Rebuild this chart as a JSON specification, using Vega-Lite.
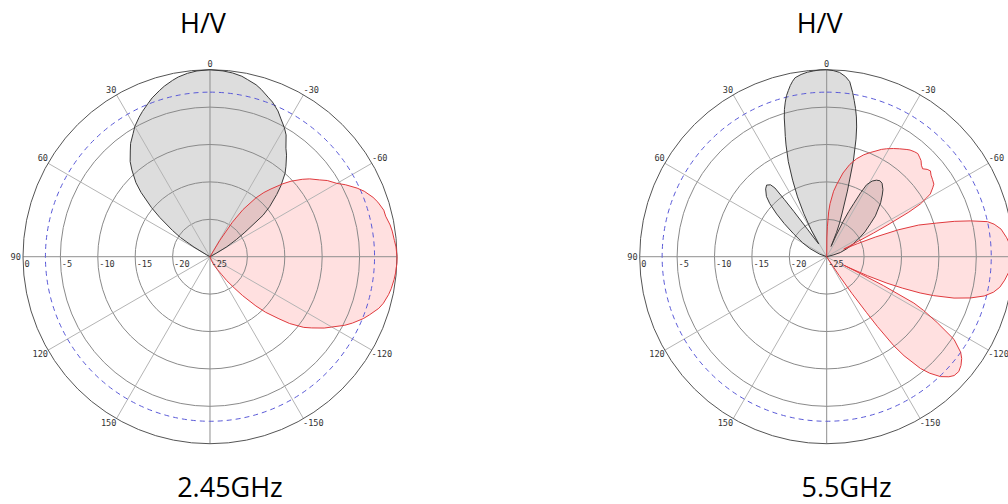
{
"$schema":"https://vega.github.io/schema/vega-lite/v6.json",
"padding":0,"spacing":0,"bounds":"flush","background":"white",
"config":{"view":{"stroke":null},"concat":{"spacing":0}},
"datasets":{
"pat":[
{"f":"2.45","p":"V","a":-180,"g":-25},{"f":"2.45","p":"V","a":-63,"g":-25},{"f":"2.45","p":"V","a":-61,"g":-24},{"f":"2.45","p":"V","a":-59.5,"g":-22.4},{"f":"2.45","p":"V","a":-57,"g":-20.8},{"f":"2.45","p":"V","a":-55,"g":-19.3},{"f":"2.45","p":"V","a":-52,"g":-16},{"f":"2.45","p":"V","a":-50,"g":-14.6},{"f":"2.45","p":"V","a":-47,"g":-12.8},{"f":"2.45","p":"V","a":-45,"g":-11.6},{"f":"2.45","p":"V","a":-42,"g":-10},{"f":"2.45","p":"V","a":-40,"g":-9.2},{"f":"2.45","p":"V","a":-37,"g":-8},{"f":"2.45","p":"V","a":-35,"g":-7.3},{"f":"2.45","p":"V","a":-32,"g":-5.8},{"f":"2.45","p":"V","a":-30,"g":-5.1},{"f":"2.45","p":"V","a":-27,"g":-4.2},{"f":"2.45","p":"V","a":-25,"g":-3.5},{"f":"2.45","p":"V","a":-22,"g":-2.7},{"f":"2.45","p":"V","a":-20,"g":-2.3},{"f":"2.45","p":"V","a":-17,"g":-1.6},{"f":"2.45","p":"V","a":-15,"g":-1.2},{"f":"2.45","p":"V","a":-12,"g":-0.8},{"f":"2.45","p":"V","a":-10,"g":-0.5},{"f":"2.45","p":"V","a":-7,"g":-0.25},{"f":"2.45","p":"V","a":-4,"g":-0.1},{"f":"2.45","p":"V","a":0,"g":0},{"f":"2.45","p":"V","a":4,"g":-0.1},{"f":"2.45","p":"V","a":7,"g":-0.3},{"f":"2.45","p":"V","a":10,"g":-0.6},{"f":"2.45","p":"V","a":12,"g":-0.9},{"f":"2.45","p":"V","a":15,"g":-1.4},{"f":"2.45","p":"V","a":17,"g":-1.8},{"f":"2.45","p":"V","a":20,"g":-2.4},{"f":"2.45","p":"V","a":22,"g":-2.9},{"f":"2.45","p":"V","a":25,"g":-3.6},{"f":"2.45","p":"V","a":27,"g":-4.1},{"f":"2.45","p":"V","a":30,"g":-4.9},{"f":"2.45","p":"V","a":32,"g":-5.6},{"f":"2.45","p":"V","a":35,"g":-6.5},{"f":"2.45","p":"V","a":37,"g":-7.3},{"f":"2.45","p":"V","a":40,"g":-8.4},{"f":"2.45","p":"V","a":42,"g":-9.4},{"f":"2.45","p":"V","a":45,"g":-11},{"f":"2.45","p":"V","a":47,"g":-12.4},{"f":"2.45","p":"V","a":50,"g":-14.8},{"f":"2.45","p":"V","a":52,"g":-16.5},{"f":"2.45","p":"V","a":55,"g":-18.9},{"f":"2.45","p":"V","a":57,"g":-20.3},{"f":"2.45","p":"V","a":59,"g":-22.5},{"f":"2.45","p":"V","a":61,"g":-24.5},{"f":"2.45","p":"V","a":63,"g":-25},
{"f":"2.45","p":"H","a":-180,"g":-25},{"f":"2.45","p":"H","a":-165,"g":-25},{"f":"2.45","p":"H","a":-160,"g":-24.5},{"f":"2.45","p":"H","a":-155,"g":-23.8},{"f":"2.45","p":"H","a":-150,"g":-23},{"f":"2.45","p":"H","a":-147,"g":-22.2},{"f":"2.45","p":"H","a":-145,"g":-21.1},{"f":"2.45","p":"H","a":-142,"g":-19.6},{"f":"2.45","p":"H","a":-140,"g":-18.2},{"f":"2.45","p":"H","a":-137,"g":-16},{"f":"2.45","p":"H","a":-135,"g":-14.5},{"f":"2.45","p":"H","a":-132,"g":-12.6},{"f":"2.45","p":"H","a":-130,"g":-11.1},{"f":"2.45","p":"H","a":-127,"g":-9.3},{"f":"2.45","p":"H","a":-125,"g":-8.4},{"f":"2.45","p":"H","a":-122,"g":-7},{"f":"2.45","p":"H","a":-120,"g":-6.2},{"f":"2.45","p":"H","a":-117,"g":-4.8},{"f":"2.45","p":"H","a":-115,"g":-4},{"f":"2.45","p":"H","a":-112,"g":-2.9},{"f":"2.45","p":"H","a":-110,"g":-2.3},{"f":"2.45","p":"H","a":-107,"g":-1.4},{"f":"2.45","p":"H","a":-105,"g":-1},{"f":"2.45","p":"H","a":-102,"g":-0.6},{"f":"2.45","p":"H","a":-100,"g":-0.4},{"f":"2.45","p":"H","a":-97,"g":-0.2},{"f":"2.45","p":"H","a":-95,"g":-0.1},{"f":"2.45","p":"H","a":-92,"g":0},{"f":"2.45","p":"H","a":-90,"g":0},{"f":"2.45","p":"H","a":-87,"g":-0.1},{"f":"2.45","p":"H","a":-85,"g":-0.25},{"f":"2.45","p":"H","a":-82,"g":-0.4},{"f":"2.45","p":"H","a":-80,"g":-0.55},{"f":"2.45","p":"H","a":-77,"g":-0.9},{"f":"2.45","p":"H","a":-75,"g":-0.95},{"f":"2.45","p":"H","a":-72,"g":-1.4},{"f":"2.45","p":"H","a":-70,"g":-1.8},{"f":"2.45","p":"H","a":-67,"g":-2.6},{"f":"2.45","p":"H","a":-65,"g":-3.3},{"f":"2.45","p":"H","a":-62,"g":-4.5},{"f":"2.45","p":"H","a":-60,"g":-5.4},{"f":"2.45","p":"H","a":-57,"g":-6.3},{"f":"2.45","p":"H","a":-55,"g":-7.1},{"f":"2.45","p":"H","a":-52,"g":-8.1},{"f":"2.45","p":"H","a":-50,"g":-8.9},{"f":"2.45","p":"H","a":-47,"g":-10.2},{"f":"2.45","p":"H","a":-45,"g":-11.2},{"f":"2.45","p":"H","a":-42,"g":-12.8},{"f":"2.45","p":"H","a":-40,"g":-13.8},{"f":"2.45","p":"H","a":-38,"g":-15},{"f":"2.45","p":"H","a":-35,"g":-17.3},{"f":"2.45","p":"H","a":-33,"g":-19.5},{"f":"2.45","p":"H","a":-31,"g":-22.5},{"f":"2.45","p":"H","a":-29,"g":-25},
{"f":"5.5","p":"V","a":-180,"g":-25},{"f":"5.5","p":"V","a":-78,"g":-25},{"f":"5.5","p":"V","a":-75,"g":-24},{"f":"5.5","p":"V","a":-73,"g":-23.1},{"f":"5.5","p":"V","a":-68,"g":-22},{"f":"5.5","p":"V","a":-64,"g":-21},{"f":"5.5","p":"V","a":-60,"g":-19.9},{"f":"5.5","p":"V","a":-57,"g":-18.9},{"f":"5.5","p":"V","a":-53,"g":-17.7},{"f":"5.5","p":"V","a":-50,"g":-16.5},{"f":"5.5","p":"V","a":-48,"g":-15.9},{"f":"5.5","p":"V","a":-45,"g":-14.8},{"f":"5.5","p":"V","a":-42,"g":-13.9},{"f":"5.5","p":"V","a":-40,"g":-13.3},{"f":"5.5","p":"V","a":-37,"g":-12.7},{"f":"5.5","p":"V","a":-35,"g":-12.6},{"f":"5.5","p":"V","a":-33,"g":-12.8},{"f":"5.5","p":"V","a":-31,"g":-13.2},{"f":"5.5","p":"V","a":-29,"g":-14},{"f":"5.5","p":"V","a":-28,"g":-15.3},{"f":"5.5","p":"V","a":-27,"g":-17},{"f":"5.5","p":"V","a":-26,"g":-18.3},{"f":"5.5","p":"V","a":-25,"g":-19.8},{"f":"5.5","p":"V","a":-24,"g":-21.8},{"f":"5.5","p":"V","a":-23,"g":-23.5},{"f":"5.5","p":"V","a":-22,"g":-21.5},{"f":"5.5","p":"V","a":-21,"g":-20.3},{"f":"5.5","p":"V","a":-19.5,"g":-18.8},{"f":"5.5","p":"V","a":-17.5,"g":-15.8},{"f":"5.5","p":"V","a":-15.5,"g":-11.6},{"f":"5.5","p":"V","a":-14,"g":-8.8},{"f":"5.5","p":"V","a":-13,"g":-7.2},{"f":"5.5","p":"V","a":-12,"g":-5.9},{"f":"5.5","p":"V","a":-11,"g":-4.8},{"f":"5.5","p":"V","a":-10,"g":-3.8},{"f":"5.5","p":"V","a":-9,"g":-2.8},{"f":"5.5","p":"V","a":-7.5,"g":-1.4},{"f":"5.5","p":"V","a":-6,"g":-0.8},{"f":"5.5","p":"V","a":-4,"g":-0.3},{"f":"5.5","p":"V","a":-2,"g":-0.1},{"f":"5.5","p":"V","a":0,"g":0},{"f":"5.5","p":"V","a":2,"g":0},{"f":"5.5","p":"V","a":4,"g":-0.1},{"f":"5.5","p":"V","a":6,"g":-0.2},{"f":"5.5","p":"V","a":8,"g":-0.4},{"f":"5.5","p":"V","a":10,"g":-0.7},{"f":"5.5","p":"V","a":11,"g":-1.1},{"f":"5.5","p":"V","a":12,"g":-1.6},{"f":"5.5","p":"V","a":13,"g":-2.2},{"f":"5.5","p":"V","a":14,"g":-2.8},{"f":"5.5","p":"V","a":15,"g":-3.6},{"f":"5.5","p":"V","a":16,"g":-4.5},{"f":"5.5","p":"V","a":17,"g":-5.6},{"f":"5.5","p":"V","a":18,"g":-6.9},{"f":"5.5","p":"V","a":19,"g":-8},{"f":"5.5","p":"V","a":20,"g":-9.1},{"f":"5.5","p":"V","a":22,"g":-11.3},{"f":"5.5","p":"V","a":24,"g":-13.8},{"f":"5.5","p":"V","a":26,"g":-16.1},{"f":"5.5","p":"V","a":28,"g":-18.5},{"f":"5.5","p":"V","a":30,"g":-20.8},{"f":"5.5","p":"V","a":32,"g":-23},{"f":"5.5","p":"V","a":34,"g":-22},{"f":"5.5","p":"V","a":35,"g":-20.5},{"f":"5.5","p":"V","a":36,"g":-17.5},{"f":"5.5","p":"V","a":36.5,"g":-15.5},{"f":"5.5","p":"V","a":37,"g":-13.5},{"f":"5.5","p":"V","a":38,"g":-12.8},{"f":"5.5","p":"V","a":40,"g":-12.5},{"f":"5.5","p":"V","a":42,"g":-12.8},{"f":"5.5","p":"V","a":45,"g":-13.6},{"f":"5.5","p":"V","a":47,"g":-14.6},{"f":"5.5","p":"V","a":49.5,"g":-16.2},{"f":"5.5","p":"V","a":52,"g":-17.8},{"f":"5.5","p":"V","a":55.3,"g":-19.6},{"f":"5.5","p":"V","a":60,"g":-21.3},{"f":"5.5","p":"V","a":64,"g":-22.5},{"f":"5.5","p":"V","a":70,"g":-24},{"f":"5.5","p":"V","a":75,"g":-25},
{"f":"5.5","p":"H","a":-180,"g":-25},{"f":"5.5","p":"H","a":-150,"g":-25},{"f":"5.5","p":"H","a":-148,"g":-24.5},{"f":"5.5","p":"H","a":-146.5,"g":-22},{"f":"5.5","p":"H","a":-145.5,"g":-19},{"f":"5.5","p":"H","a":-144.5,"g":-15.8},{"f":"5.5","p":"H","a":-144,"g":-13.5},{"f":"5.5","p":"H","a":-143,"g":-10.1},{"f":"5.5","p":"H","a":-142,"g":-8.2},{"f":"5.5","p":"H","a":-140,"g":-5.5},{"f":"5.5","p":"H","a":-138.5,"g":-4.2},{"f":"5.5","p":"H","a":-136.5,"g":-2.9},{"f":"5.5","p":"H","a":-134.5,"g":-2.1},{"f":"5.5","p":"H","a":-133,"g":-1.7},{"f":"5.5","p":"H","a":-131,"g":-1.6},{"f":"5.5","p":"H","a":-129,"g":-1.9},{"f":"5.5","p":"H","a":-127,"g":-2.4},{"f":"5.5","p":"H","a":-125.5,"g":-3},{"f":"5.5","p":"H","a":-123,"g":-4.7},{"f":"5.5","p":"H","a":-120.8,"g":-7.8},{"f":"5.5","p":"H","a":-119,"g":-10.2},{"f":"5.5","p":"H","a":-118,"g":-11.8},{"f":"5.5","p":"H","a":-117,"g":-16.5},{"f":"5.5","p":"H","a":-116.6,"g":-20},{"f":"5.5","p":"H","a":-116.3,"g":-22.5},{"f":"5.5","p":"H","a":-116,"g":-21.5},{"f":"5.5","p":"H","a":-115,"g":-19},{"f":"5.5","p":"H","a":-113.7,"g":-16.2},{"f":"5.5","p":"H","a":-112.5,"g":-14},{"f":"5.5","p":"H","a":-111.2,"g":-11.6},{"f":"5.5","p":"H","a":-110,"g":-9.8},{"f":"5.5","p":"H","a":-108,"g":-7.1},{"f":"5.5","p":"H","a":-106,"g":-5},{"f":"5.5","p":"H","a":-104,"g":-3.3},{"f":"5.5","p":"H","a":-102,"g":-2.2},{"f":"5.5","p":"H","a":-100,"g":-1.5},{"f":"5.5","p":"H","a":-97.5,"g":-1},{"f":"5.5","p":"H","a":-95,"g":-0.6},{"f":"5.5","p":"H","a":-92,"g":-0.35},{"f":"5.5","p":"H","a":-89,"g":-0.3},{"f":"5.5","p":"H","a":-86,"g":-0.5},{"f":"5.5","p":"H","a":-84,"g":-0.8},{"f":"5.5","p":"H","a":-81,"g":-1.4},{"f":"5.5","p":"H","a":-79,"g":-2.2},{"f":"5.5","p":"H","a":-77.7,"g":-3},{"f":"5.5","p":"H","a":-76,"g":-5.2},{"f":"5.5","p":"H","a":-74.5,"g":-7.3},{"f":"5.5","p":"H","a":-73,"g":-9.6},{"f":"5.5","p":"H","a":-71,"g":-12},{"f":"5.5","p":"H","a":-69.4,"g":-14.8},{"f":"5.5","p":"H","a":-68,"g":-18},{"f":"5.5","p":"H","a":-67,"g":-20.5},{"f":"5.5","p":"H","a":-66,"g":-22.5},{"f":"5.5","p":"H","a":-65,"g":-21.5},{"f":"5.5","p":"H","a":-64,"g":-20.5},{"f":"5.5","p":"H","a":-63.2,"g":-18},{"f":"5.5","p":"H","a":-62.5,"g":-15.9},{"f":"5.5","p":"H","a":-61.5,"g":-12.5},{"f":"5.5","p":"H","a":-60.6,"g":-10.6},{"f":"5.5","p":"H","a":-59.5,"g":-9.5},{"f":"5.5","p":"H","a":-58.8,"g":-8.8},{"f":"5.5","p":"H","a":-57,"g":-8.1},{"f":"5.5","p":"H","a":-55.9,"g":-7.7},{"f":"5.5","p":"H","a":-54,"g":-7.5},{"f":"5.5","p":"H","a":-52,"g":-7.3},{"f":"5.5","p":"H","a":-50.4,"g":-7},{"f":"5.5","p":"H","a":-49,"g":-7.2},{"f":"5.5","p":"H","a":-47.5,"g":-7.6},{"f":"5.5","p":"H","a":-46,"g":-7.4},{"f":"5.5","p":"H","a":-44.5,"g":-7},{"f":"5.5","p":"H","a":-43,"g":-6.8},{"f":"5.5","p":"H","a":-41.5,"g":-6.6},{"f":"5.5","p":"H","a":-40,"g":-6.7},{"f":"5.5","p":"H","a":-38,"g":-6.9},{"f":"5.5","p":"H","a":-36.8,"g":-7.1},{"f":"5.5","p":"H","a":-34,"g":-7.6},{"f":"5.5","p":"H","a":-31.7,"g":-8},{"f":"5.5","p":"H","a":-29,"g":-8.5},{"f":"5.5","p":"H","a":-27,"g":-8.9},{"f":"5.5","p":"H","a":-25,"g":-9.4},{"f":"5.5","p":"H","a":-22.7,"g":-9.9},{"f":"5.5","p":"H","a":-20,"g":-10.5},{"f":"5.5","p":"H","a":-17,"g":-11.3},{"f":"5.5","p":"H","a":-14,"g":-12.3},{"f":"5.5","p":"H","a":-11,"g":-13.6},{"f":"5.5","p":"H","a":-8,"g":-15.2},{"f":"5.5","p":"H","a":-6,"g":-16.2},{"f":"5.5","p":"H","a":-3.6,"g":-17.9},{"f":"5.5","p":"H","a":-2.5,"g":-19},{"f":"5.5","p":"H","a":-1.3,"g":-21},{"f":"5.5","p":"H","a":-0.5,"g":-22.5},{"f":"5.5","p":"H","a":1,"g":-25}
],
"rings":[{"g":-20},{"g":-15},{"g":-10},{"g":-5},{"g":0},{"g":-3}],
"spokes":[{"a":0},{"a":30},{"a":60},{"a":90},{"a":120},{"a":150},{"a":180},{"a":-150},{"a":-120},{"a":-90},{"a":-60},{"a":-30}],
"alab":[{"a":0,"t":"0"},{"a":30,"t":"30"},{"a":60,"t":"60"},{"a":90,"t":"90"},{"a":120,"t":"120"},{"a":150,"t":"150"},{"a":-30,"t":"-30"},{"a":-60,"t":"-60"},{"a":-90,"t":"-90"},{"a":-120,"t":"-120"},{"a":-150,"t":"-150"}],
"rlab":[{"g":0,"t":"0"},{"g":-5,"t":"-5"},{"g":-10,"t":"-10"},{"g":-15,"t":"-15"},{"g":-20,"t":"-20"},{"g":-25,"t":"-25"}],
"titles":[{"f":"2.45","top":"H/V","bottom":"2.45GHz"},{"f":"5.5","top":"H/V","bottom":"5.5GHz"}]
},
"hconcat":[
{"width":400,"height":504,
"layer":[
{"data":{"name":"pat"},"transform":[{"filter":"datum.f=='2.45' && datum.p=='V'"},{"calculate":"max(0,datum.g+25)","as":"r"},{"calculate":"-datum.r*sin(datum.a*PI/180)","as":"x"},{"calculate":"datum.r*cos(datum.a*PI/180)","as":"y"}],
 "mark":{"type":"line","interpolate":"linear-closed","fill":"#dddddd","strokeOpacity":0,"clip":true},
 "encoding":{"x":{"field":"x","type":"quantitative","scale":{"domain":[-28.07,25.4],"nice":false,"zero":false},"axis":null},"y":{"field":"y","type":"quantitative","scale":{"domain":[-33.06,34.32],"nice":false,"zero":false},"axis":null},"order":{"field":"a","type":"quantitative"}}},
{"data":{"name":"pat"},"transform":[{"filter":"datum.f=='2.45' && datum.p=='H'"},{"calculate":"max(0,datum.g+25)","as":"r"},{"calculate":"-datum.r*sin(datum.a*PI/180)","as":"x"},{"calculate":"datum.r*cos(datum.a*PI/180)","as":"y"}],
 "mark":{"type":"line","interpolate":"linear-closed","fill":"#ff6464","fillOpacity":0.2,"strokeOpacity":0,"clip":true},
 "encoding":{"x":{"field":"x","type":"quantitative","axis":null},"y":{"field":"y","type":"quantitative","axis":null},"order":{"field":"a","type":"quantitative"}}},
{"data":{"name":"rings"},"transform":[{"filter":"datum.g<=-5"},{"calculate":"datum.g+25","as":"r"},{"calculate":"0","as":"cx"},{"calculate":"0","as":"cy"}],
 "mark":{"type":"arc","theta":0,"theta2":6.2832,"filled":false,"stroke":"#8a8a8a","strokeWidth":1,"clip":true},
 "encoding":{"x":{"field":"cx","type":"quantitative","axis":null},"y":{"field":"cy","type":"quantitative","axis":null},"radius":{"field":"r","type":"quantitative","stack":null,"scale":{"type":"linear","domain":[0,25],"range":[0,187],"zero":true,"nice":false},"legend":null}}},
{"data":{"name":"spokes"},"transform":[{"filter":"datum.a % 90 != 0"},{"calculate":"0","as":"cx"},{"calculate":"0","as":"cy"},{"calculate":"-25*sin(datum.a*PI/180)","as":"ex"},{"calculate":"25*cos(datum.a*PI/180)","as":"ey"}],
 "mark":{"type":"rule","color":"#b4b4b4","strokeWidth":1,"clip":true},
 "encoding":{"x":{"field":"cx","type":"quantitative","axis":null},"y":{"field":"cy","type":"quantitative","axis":null},"x2":{"field":"ex"},"y2":{"field":"ey"}}},
{"data":{"name":"spokes"},"transform":[{"filter":"datum.a % 90 == 0"},{"calculate":"0","as":"cx"},{"calculate":"0","as":"cy"},{"calculate":"-25*sin(datum.a*PI/180)","as":"ex"},{"calculate":"25*cos(datum.a*PI/180)","as":"ey"}],
 "mark":{"type":"rule","color":"#8e8e8e","strokeWidth":1,"clip":true},
 "encoding":{"x":{"field":"cx","type":"quantitative","axis":null},"y":{"field":"cy","type":"quantitative","axis":null},"x2":{"field":"ex"},"y2":{"field":"ey"}}},
{"data":{"name":"rings"},"transform":[{"filter":"datum.g==0"},{"calculate":"datum.g+25","as":"r"},{"calculate":"0","as":"cx"},{"calculate":"0","as":"cy"}],
 "mark":{"type":"arc","theta":0,"theta2":6.2832,"filled":false,"stroke":"#555555","strokeWidth":1,"clip":true},
 "encoding":{"x":{"field":"cx","type":"quantitative","axis":null},"y":{"field":"cy","type":"quantitative","axis":null},"radius":{"field":"r","type":"quantitative","stack":null,"legend":null}}},
{"data":{"name":"rings"},"transform":[{"filter":"datum.g==-3"},{"calculate":"datum.g+25","as":"r"},{"calculate":"0","as":"cx"},{"calculate":"0","as":"cy"}],
 "mark":{"type":"arc","theta":0,"theta2":6.2832,"filled":false,"stroke":"#5a5ad8","strokeWidth":1,"strokeDash":[5,4],"clip":true},
 "encoding":{"x":{"field":"cx","type":"quantitative","axis":null},"y":{"field":"cy","type":"quantitative","axis":null},"radius":{"field":"r","type":"quantitative","stack":null,"legend":null}}},
{"data":{"name":"pat"},"transform":[{"filter":"datum.f=='2.45' && datum.p=='V'"},{"calculate":"max(0,datum.g+25)","as":"r"},{"calculate":"-datum.r*sin(datum.a*PI/180)","as":"x"},{"calculate":"datum.r*cos(datum.a*PI/180)","as":"y"}],
 "mark":{"type":"line","interpolate":"linear-closed","stroke":"#3a3a3a","strokeWidth":1,"clip":true},
 "encoding":{"x":{"field":"x","type":"quantitative","axis":null},"y":{"field":"y","type":"quantitative","axis":null},"order":{"field":"a","type":"quantitative"}}},
{"data":{"name":"pat"},"transform":[{"filter":"datum.f=='2.45' && datum.p=='H'"},{"calculate":"max(0,datum.g+25)","as":"r"},{"calculate":"-datum.r*sin(datum.a*PI/180)","as":"x"},{"calculate":"datum.r*cos(datum.a*PI/180)","as":"y"}],
 "mark":{"type":"line","interpolate":"linear-closed","stroke":"#e03a3e","strokeWidth":1,"clip":true},
 "encoding":{"x":{"field":"x","type":"quantitative","axis":null},"y":{"field":"y","type":"quantitative","axis":null},"order":{"field":"a","type":"quantitative"}}},
{"data":{"name":"alab"},"transform":[{"calculate":"-25*sin(datum.a*PI/180)","as":"x"},{"calculate":"25*cos(datum.a*PI/180)","as":"y"}],
 "encoding":{"x":{"field":"x","type":"quantitative","axis":null},"y":{"field":"y","type":"quantitative","axis":null},"text":{"field":"t"}},
 "layer":[
 {"transform":[{"filter":"datum.a==0"}],"mark":{"type":"text","align":"center","baseline":"bottom","dy":-1,"font":"DejaVu Sans Mono","fontSize":8.6,"color":"#333333","clip":true}},
 {"transform":[{"filter":"datum.a>0 && datum.a<90"}],"mark":{"type":"text","align":"right","baseline":"bottom","dx":0,"font":"DejaVu Sans Mono","fontSize":8.6,"color":"#333333","clip":true}},
 {"transform":[{"filter":"datum.a==90"}],"mark":{"type":"text","align":"right","baseline":"middle","dx":-2,"font":"DejaVu Sans Mono","fontSize":8.6,"color":"#333333","clip":true}},
 {"transform":[{"filter":"datum.a>90"}],"mark":{"type":"text","align":"right","baseline":"top","dx":0,"font":"DejaVu Sans Mono","fontSize":8.6,"color":"#333333","clip":true}},
 {"transform":[{"filter":"datum.a<0 && datum.a>-90"}],"mark":{"type":"text","align":"left","baseline":"bottom","dx":0,"font":"DejaVu Sans Mono","fontSize":8.6,"color":"#333333","clip":true}},
 {"transform":[{"filter":"datum.a==-90"}],"mark":{"type":"text","align":"left","baseline":"middle","dx":2,"font":"DejaVu Sans Mono","fontSize":8.6,"color":"#333333","clip":true}},
 {"transform":[{"filter":"datum.a<-90"}],"mark":{"type":"text","align":"left","baseline":"top","dx":-0.5,"font":"DejaVu Sans Mono","fontSize":8.6,"color":"#333333","clip":true}}
 ]},
{"data":{"name":"rlab"},"transform":[{"calculate":"-(datum.g+25)","as":"x"},{"calculate":"0","as":"y"}],
 "mark":{"type":"text","align":"left","baseline":"top","dx":1.5,"dy":3.5,"font":"DejaVu Sans Mono","fontSize":8.6,"color":"#333333","clip":true},
 "encoding":{"x":{"field":"x","type":"quantitative","axis":null},"y":{"field":"y","type":"quantitative","axis":null},"text":{"field":"t"}}},
{"data":{"name":"titles"},"transform":[{"filter":"datum.f=='2.45'"},{"calculate":"-0.94","as":"tx"},{"calculate":"29.87","as":"ty"}],
 "mark":{"type":"text","align":"center","baseline":"alphabetic","font":"Open Sans","fontSize":27,"color":"#000000"},
 "encoding":{"x":{"field":"tx","type":"quantitative","axis":null},"y":{"field":"ty","type":"quantitative","axis":null},"text":{"field":"top"}}},
{"data":{"name":"titles"},"transform":[{"filter":"datum.f=='2.45'"},{"calculate":"2.67","as":"tx"},{"calculate":"-32.09","as":"ty"}],
 "mark":{"type":"text","align":"center","baseline":"alphabetic","font":"Open Sans","fontSize":27,"color":"#000000"},
 "encoding":{"x":{"field":"tx","type":"quantitative","axis":null},"y":{"field":"ty","type":"quantitative","axis":null},"text":{"field":"bottom"}}}
]},
{"width":608,"height":504,
"layer":[
{"data":{"name":"pat"},"transform":[{"filter":"datum.f=='5.5' && datum.p=='V'"},{"calculate":"max(0,datum.g+25)","as":"r"},{"calculate":"-datum.r*sin(datum.a*PI/180)","as":"x"},{"calculate":"datum.r*cos(datum.a*PI/180)","as":"y"}],
 "mark":{"type":"line","interpolate":"linear-closed","fill":"#dddddd","strokeOpacity":0,"clip":true},
 "encoding":{"x":{"field":"x","type":"quantitative","scale":{"domain":[-57.05,24.24],"nice":false,"zero":false},"axis":null},"y":{"field":"y","type":"quantitative","scale":{"domain":[-33.06,34.32],"nice":false,"zero":false},"axis":null},"order":{"field":"a","type":"quantitative"}}},
{"data":{"name":"pat"},"transform":[{"filter":"datum.f=='5.5' && datum.p=='H'"},{"calculate":"max(0,datum.g+25)","as":"r"},{"calculate":"-datum.r*sin(datum.a*PI/180)","as":"x"},{"calculate":"datum.r*cos(datum.a*PI/180)","as":"y"}],
 "mark":{"type":"line","interpolate":"linear-closed","fill":"#ff6464","fillOpacity":0.2,"strokeOpacity":0,"clip":true},
 "encoding":{"x":{"field":"x","type":"quantitative","axis":null},"y":{"field":"y","type":"quantitative","axis":null},"order":{"field":"a","type":"quantitative"}}},
{"data":{"name":"rings"},"transform":[{"filter":"datum.g<=-5"},{"calculate":"datum.g+25","as":"r"},{"calculate":"0","as":"cx"},{"calculate":"0","as":"cy"}],
 "mark":{"type":"arc","theta":0,"theta2":6.2832,"filled":false,"stroke":"#8a8a8a","strokeWidth":1,"clip":true},
 "encoding":{"x":{"field":"cx","type":"quantitative","axis":null},"y":{"field":"cy","type":"quantitative","axis":null},"radius":{"field":"r","type":"quantitative","stack":null,"scale":{"type":"linear","domain":[0,25],"range":[0,187],"zero":true,"nice":false},"legend":null}}},
{"data":{"name":"spokes"},"transform":[{"filter":"datum.a % 90 != 0"},{"calculate":"0","as":"cx"},{"calculate":"0","as":"cy"},{"calculate":"-25*sin(datum.a*PI/180)","as":"ex"},{"calculate":"25*cos(datum.a*PI/180)","as":"ey"}],
 "mark":{"type":"rule","color":"#b4b4b4","strokeWidth":1,"clip":true},
 "encoding":{"x":{"field":"cx","type":"quantitative","axis":null},"y":{"field":"cy","type":"quantitative","axis":null},"x2":{"field":"ex"},"y2":{"field":"ey"}}},
{"data":{"name":"spokes"},"transform":[{"filter":"datum.a % 90 == 0"},{"calculate":"0","as":"cx"},{"calculate":"0","as":"cy"},{"calculate":"-25*sin(datum.a*PI/180)","as":"ex"},{"calculate":"25*cos(datum.a*PI/180)","as":"ey"}],
 "mark":{"type":"rule","color":"#8e8e8e","strokeWidth":1,"clip":true},
 "encoding":{"x":{"field":"cx","type":"quantitative","axis":null},"y":{"field":"cy","type":"quantitative","axis":null},"x2":{"field":"ex"},"y2":{"field":"ey"}}},
{"data":{"name":"rings"},"transform":[{"filter":"datum.g==0"},{"calculate":"datum.g+25","as":"r"},{"calculate":"0","as":"cx"},{"calculate":"0","as":"cy"}],
 "mark":{"type":"arc","theta":0,"theta2":6.2832,"filled":false,"stroke":"#555555","strokeWidth":1,"clip":true},
 "encoding":{"x":{"field":"cx","type":"quantitative","axis":null},"y":{"field":"cy","type":"quantitative","axis":null},"radius":{"field":"r","type":"quantitative","stack":null,"legend":null}}},
{"data":{"name":"rings"},"transform":[{"filter":"datum.g==-3"},{"calculate":"datum.g+25","as":"r"},{"calculate":"0","as":"cx"},{"calculate":"0","as":"cy"}],
 "mark":{"type":"arc","theta":0,"theta2":6.2832,"filled":false,"stroke":"#5a5ad8","strokeWidth":1,"strokeDash":[5,4],"clip":true},
 "encoding":{"x":{"field":"cx","type":"quantitative","axis":null},"y":{"field":"cy","type":"quantitative","axis":null},"radius":{"field":"r","type":"quantitative","stack":null,"legend":null}}},
{"data":{"name":"pat"},"transform":[{"filter":"datum.f=='5.5' && datum.p=='V'"},{"calculate":"max(0,datum.g+25)","as":"r"},{"calculate":"-datum.r*sin(datum.a*PI/180)","as":"x"},{"calculate":"datum.r*cos(datum.a*PI/180)","as":"y"}],
 "mark":{"type":"line","interpolate":"linear-closed","stroke":"#3a3a3a","strokeWidth":1,"clip":true},
 "encoding":{"x":{"field":"x","type":"quantitative","axis":null},"y":{"field":"y","type":"quantitative","axis":null},"order":{"field":"a","type":"quantitative"}}},
{"data":{"name":"pat"},"transform":[{"filter":"datum.f=='5.5' && datum.p=='H'"},{"calculate":"max(0,datum.g+25)","as":"r"},{"calculate":"-datum.r*sin(datum.a*PI/180)","as":"x"},{"calculate":"datum.r*cos(datum.a*PI/180)","as":"y"}],
 "mark":{"type":"line","interpolate":"linear-closed","stroke":"#e03a3e","strokeWidth":1,"clip":true},
 "encoding":{"x":{"field":"x","type":"quantitative","axis":null},"y":{"field":"y","type":"quantitative","axis":null},"order":{"field":"a","type":"quantitative"}}},
{"data":{"name":"alab"},"transform":[{"filter":"datum.a != -90"},{"calculate":"-25*sin(datum.a*PI/180)","as":"x"},{"calculate":"25*cos(datum.a*PI/180)","as":"y"}],
 "encoding":{"x":{"field":"x","type":"quantitative","axis":null},"y":{"field":"y","type":"quantitative","axis":null},"text":{"field":"t"}},
 "layer":[
 {"transform":[{"filter":"datum.a==0"}],"mark":{"type":"text","align":"center","baseline":"bottom","dy":-1,"font":"DejaVu Sans Mono","fontSize":8.6,"color":"#333333","clip":true}},
 {"transform":[{"filter":"datum.a>0 && datum.a<90"}],"mark":{"type":"text","align":"right","baseline":"bottom","dx":0,"font":"DejaVu Sans Mono","fontSize":8.6,"color":"#333333","clip":true}},
 {"transform":[{"filter":"datum.a==90"}],"mark":{"type":"text","align":"right","baseline":"middle","dx":-2,"font":"DejaVu Sans Mono","fontSize":8.6,"color":"#333333","clip":true}},
 {"transform":[{"filter":"datum.a>90"}],"mark":{"type":"text","align":"right","baseline":"top","dx":0,"font":"DejaVu Sans Mono","fontSize":8.6,"color":"#333333","clip":true}},
 {"transform":[{"filter":"datum.a<0 && datum.a>-90"}],"mark":{"type":"text","align":"left","baseline":"bottom","dx":0,"font":"DejaVu Sans Mono","fontSize":8.6,"color":"#333333","clip":true}},
 {"transform":[{"filter":"datum.a<-90"}],"mark":{"type":"text","align":"left","baseline":"top","dx":-0.5,"font":"DejaVu Sans Mono","fontSize":8.6,"color":"#333333","clip":true}}
 ]},
{"data":{"name":"rlab"},"transform":[{"calculate":"-(datum.g+25)","as":"x"},{"calculate":"0","as":"y"}],
 "mark":{"type":"text","align":"left","baseline":"top","dx":1.5,"dy":3.5,"font":"DejaVu Sans Mono","fontSize":8.6,"color":"#333333","clip":true},
 "encoding":{"x":{"field":"x","type":"quantitative","axis":null},"y":{"field":"y","type":"quantitative","axis":null},"text":{"field":"t"}}},
{"data":{"name":"titles"},"transform":[{"filter":"datum.f=='5.5'"},{"calculate":"-0.94","as":"tx"},{"calculate":"29.87","as":"ty"}],
 "mark":{"type":"text","align":"center","baseline":"alphabetic","font":"Open Sans","fontSize":27,"color":"#000000"},
 "encoding":{"x":{"field":"tx","type":"quantitative","axis":null},"y":{"field":"ty","type":"quantitative","axis":null},"text":{"field":"top"}}},
{"data":{"name":"titles"},"transform":[{"filter":"datum.f=='5.5'"},{"calculate":"2.67","as":"tx"},{"calculate":"-32.09","as":"ty"}],
 "mark":{"type":"text","align":"center","baseline":"alphabetic","font":"Open Sans","fontSize":27,"color":"#000000"},
 "encoding":{"x":{"field":"tx","type":"quantitative","axis":null},"y":{"field":"ty","type":"quantitative","axis":null},"text":{"field":"bottom"}}}
]}
]
}
